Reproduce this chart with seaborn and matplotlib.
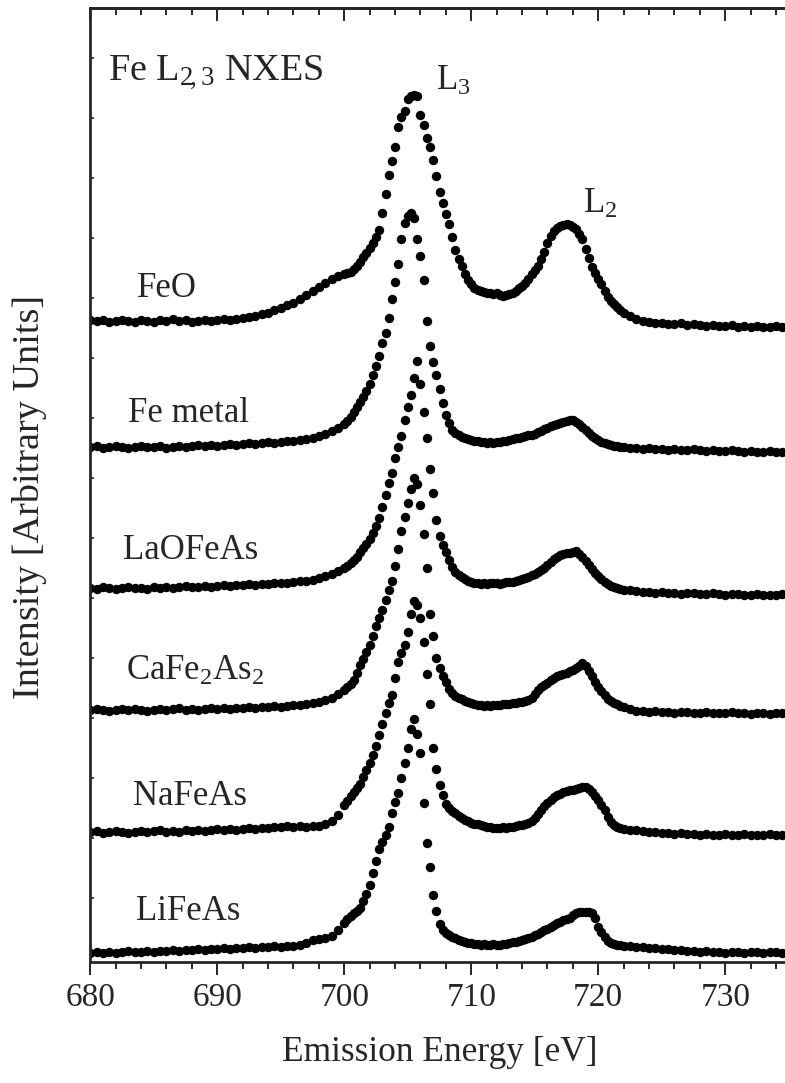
import numpy as np
import pandas as pd
import matplotlib.pyplot as plt
import seaborn as sns
from matplotlib.ticker import MultipleLocator

# =====================================================
# DATA (intensity in arbitrary units)
# =====================================================

# energy grid [eV]: 0.5 eV in the tails, 0.25 eV around the L3 / L2 lines
energy = np.concatenate([
    np.arange(680, 700, 0.5),
    np.arange(700, 722, 0.25),
    np.arange(722, 735.01, 0.5),
])

samples = ["FeO", "Fe metal", "LaOFeAs", "CaFe$_2$As$_2$", "NaFeAs", "LiFeAs"]
offsets = [641, 515, 374, 252, 130, 9]

feo = [
    1, 0, 1, -1, 0, 1, 0, -1, 1, 0, -1, 1, 0, 2, 0, 1, -1, 0, 1, 0,
    1, 2, 1, 2, 3, 4, 5, 7, 8, 11, 13, 16, 18, 22, 26, 30, 34, 38, 42, 45,
    47, 48, 49, 52, 55, 59, 64, 68, 73, 78, 84, 91,
    108, 127, 146, 160, 174, 194, 204, 210, 222, 225, 226, 225,
    206, 196, 183, 174, 161, 145, 129, 118, 107, 97, 84, 71,
    62, 55, 47, 41, 37, 33, 31, 30, 29, 28, 28, 27,
    28, 26, 25, 26, 27, 28, 30, 33, 35, 38, 42, 47,
    51, 55, 62, 69, 78, 85, 90, 93, 95, 96, 97, 96,
    94, 92, 87, 82, 72, 63, 54, 48, 42, 37, 30, 24,
    20, 17, 14, 11,
    8, 5, 2, 0, -1, -2, -2, -3, -3, -2, -4, -3, -4, -5, -4, -5, -5, -4,
    -6, -5, -6, -5, -6, -6, -5, -6, -6,
]

fe_metal = [
    0, 1, -1, 0, 1, 0, -1, 0, 1, 0, 0, 1, -1, 0, 1, 0, 1, 2, 1, 2,
    1, 2, 3, 2, 3, 4, 3, 4, 5, 4, 5, 6, 6, 7, 8, 9, 11, 13, 16, 19,
    23, 26, 30, 35, 40, 45, 50, 56, 63, 72, 81, 91,
    104, 114, 129, 148, 165, 183, 208, 224, 231, 234, 229, 208,
    191, 167, 126, 101, 85, 72, 58, 44, 32, 24, 17, 14,
    12, 10, 9, 8, 7, 6, 6, 5, 5, 4, 5, 4,
    5, 5, 6, 6, 7, 8, 9, 9, 10, 11, 12, 12,
    13, 15, 16, 18, 19, 21, 22, 23, 24, 25, 26, 27,
    27, 25, 23, 20, 17, 14, 11, 9, 7, 5, 4, 3,
    2, 1, 1, 0,
    0, -1, -1, -2, -1, -2, -2, -3, -2, -3, -3, -2, -3, -4, -3, -4, -4, -3,
    -4, -5, -4, -5, -5, -4, -5, -5, -5,
]

laofeas = [
    0, -1, 1, 0, -1, 0, 1, 0, 0, -1, 1, 0, 1, 0, 1, 2, 1, 1, 2, 1,
    2, 3, 2, 3, 3, 4, 3, 4, 4, 5, 5, 5, 6, 7, 7, 8, 10, 12, 14, 17,
    20, 22, 25, 28, 31, 36, 40, 44, 49, 55, 62, 70,
    81, 93, 105, 115, 130, 141, 152, 168, 181, 193, 210, 227,
    204, 176, 150, 119, 95, 68, 52, 43, 36, 28, 21, 16,
    13, 11, 9, 7, 6, 5, 5, 4, 5, 4, 5, 5,
    5, 4, 5, 6, 6, 6, 7, 8, 9, 10, 11, 13,
    14, 16, 18, 20, 23, 26, 29, 31, 33, 34, 35, 35,
    36, 37, 34, 31, 27, 23, 19, 15, 12, 9, 6, 4,
    2, 1, 0, -1,
    -2, -2, -3, -4, -4, -5, -4, -5, -5, -6, -5, -5, -6, -6, -5, -6, -7, -6,
    -6, -7, -7, -6, -7, -7, -7, -6, -7,
]

cafe2as2 = [
    0, 1, 0, -1, 0, 1, 0, 1, 0, -1, 0, 1, 0, 1, 2, 0, 1, 0, 1, 2,
    1, 2, 1, 2, 2, 3, 2, 3, 3, 4, 3, 4, 5, 5, 6, 7, 8, 10, 12, 16,
    20, 23, 26, 30, 37, 45, 51, 58, 65, 74, 84, 92,
    100, 110, 120, 129, 144, 161, 179, 193, 207, 221, 232, 226,
    205, 176, 142, 96, 74, 52, 42, 34, 28, 21, 17, 14,
    12, 11, 9, 8, 7, 6, 5, 5, 4, 5, 4, 5,
    5, 5, 6, 6, 6, 7, 7, 8, 8, 9, 10, 12,
    16, 20, 23, 25, 27, 30, 32, 34, 35, 36, 37, 39,
    40, 42, 44, 47, 44, 39, 34, 28, 23, 19, 15, 11,
    9, 7, 6, 4,
    3, 1, -1, -1, -2, -1, -2, -2, -3, -2, -2, -3, -3, -2, -3, -3, -3, -2,
    -3, -3, -4, -3, -3, -4, -3, -3, -4,
]

nafeas = [
    0, 1, -1, 0, 1, 0, -1, 0, 1, 0, 1, 2, 0, 1, 0, 2, 1, 2, 1, 2,
    3, 2, 3, 2, 3, 4, 3, 4, 4, 5, 5, 6, 5, 6, 5, 6, 6, 8, 11, 17,
    27, 31, 36, 40, 44, 48, 55, 62, 69, 77, 86, 97,
    108, 119, 129, 137, 154, 170, 179, 187, 200, 218, 231, 227,
    214, 190, 158, 128, 84, 63, 47, 37, 28, 24, 21, 19,
    16, 14, 12, 11, 9, 8, 8, 7, 6, 5, 5, 4,
    4, 4, 5, 4, 5, 5, 6, 7, 7, 8, 9, 11,
    14, 18, 22, 26, 29, 32, 35, 37, 38, 40, 41, 42,
    42, 43, 44, 45, 45, 43, 40, 36, 32, 27, 22, 15,
    10, 7, 5, 4,
    3, 2, 2, 1, 0, 0, -1, -1, -2, -1, -2, -2, -3, -2, -3, -3, -2, -3,
    -3, -2, -3, -3, -3, -2, -3, -3, -3,
]

lifeas = [
    0, 1, 0, 1, 0, 1, 2, 1, 1, 2, 1, 2, 2, 3, 2, 3, 3, 4, 3, 4,
    4, 5, 4, 5, 5, 6, 5, 6, 6, 7, 6, 7, 7, 8, 10, 13, 14, 15, 17, 23,
    30, 34, 37, 40, 42, 45, 52, 59, 68, 80, 92, 104,
    111, 118, 126, 140, 151, 160, 175, 190, 205, 224, 234, 219,
    200, 150, 110, 86, 58, 42, 29, 23, 20, 18, 16, 15,
    13, 12, 11, 10, 10, 9, 9, 8, 9, 8, 8, 9,
    8, 8, 9, 9, 10, 11, 11, 12, 13, 14, 15, 16,
    18, 19, 21, 23, 24, 26, 28, 30, 31, 33, 34, 35,
    38, 40, 41, 41, 41, 41, 40, 35, 26, 21, 16, 12,
    10, 9, 8, 8,
    7, 7, 6, 6, 5, 5, 4, 4, 3, 3, 2, 2, 1, 2, 1, 1, 0, 1,
    1, 0, 1, 1, 0, 1, 1, 0, 1,
]

series = [feo, fe_metal, laofeas, cafe2as2, nafeas, lifeas]

# label positions (eV, stacked intensity)
label_x = [683.7, 683.0, 682.6, 682.8, 683.4, 683.6]
label_y = [665, 540, 403, 282, 157, 42]

# =====================================================
# LONG TABLE FOR SEABORN
# =====================================================

frames = []
for name, off, vals in zip(samples, offsets, series):
    frames.append(pd.DataFrame({
        "energy": energy,
        "intensity": np.array(vals, dtype=float) + off,
        "sample": name,
    }))
df = pd.concat(frames, ignore_index=True)

# =====================================================
# STYLE
# =====================================================

sns.set_style("ticks")
plt.rcParams["font.family"] = ["Liberation Serif", "DejaVu Serif"]
plt.rcParams["mathtext.fontset"] = "custom"
plt.rcParams["mathtext.rm"] = "Liberation Serif"
plt.rcParams["mathtext.it"] = "Liberation Serif:italic"
plt.rcParams["mathtext.default"] = "rm"

fig = plt.figure(figsize=(7.85, 10.83), dpi=100)
ax = fig.add_axes([0.115, 0.1117, 0.8898, 0.8809])

sns.scatterplot(
    data=df,
    x="energy",
    y="intensity",
    color="black",
    s=46,
    linewidth=0,
    legend=False,
    ax=ax,
)

ax.set_xlim(680, 735)
ax.set_ylim(0, 954)

ax.set_xticks(np.arange(680, 731, 10))
ax.xaxis.set_minor_locator(MultipleLocator(2))
ax.tick_params(axis="x", which="major", direction="out", length=9.4,
               width=1.4, labelsize=24, pad=5)
ax.tick_params(axis="x", which="minor", direction="out", length=5, width=1.4)

top = ax.secondary_xaxis("top")
top.set_xticks(np.arange(680, 731, 10))
top.xaxis.set_minor_locator(MultipleLocator(2))
top.tick_params(axis="x", which="major", direction="in", length=9.4,
                width=1.4, labeltop=False)
top.tick_params(axis="x", which="minor", direction="in", length=5, width=1.4)
top.spines["top"].set_linewidth(2)

ax.set_yticks(np.arange(64, 954, 60))
ax.tick_params(axis="y", direction="in", length=3, width=1.2, labelleft=False)

for sp in ax.spines.values():
    sp.set_linewidth(2)

ax.set_xlabel("Emission Energy [eV]", fontsize=25.5, labelpad=17)
ax.set_ylabel("Intensity [Arbitrary Units]", fontsize=27.5)
ax.yaxis.set_label_coords(-0.062, 0.488)

# =====================================================
# ANNOTATIONS
# =====================================================

for name, lx, ly in zip(samples, label_x, label_y):
    ax.text(lx, ly, name, fontsize=25, va="baseline", ha="left")

ax.text(681.4, 882, r"Fe L$_{2\!,3}$ NXES", fontsize=27.5, va="baseline", ha="left")
ax.text(707.2, 872, "L$_3$", fontsize=25, va="baseline", ha="left")
ax.text(718.8, 749, "L$_2$", fontsize=25, va="baseline", ha="left")

fig.savefig("out.png", dpi=100)
